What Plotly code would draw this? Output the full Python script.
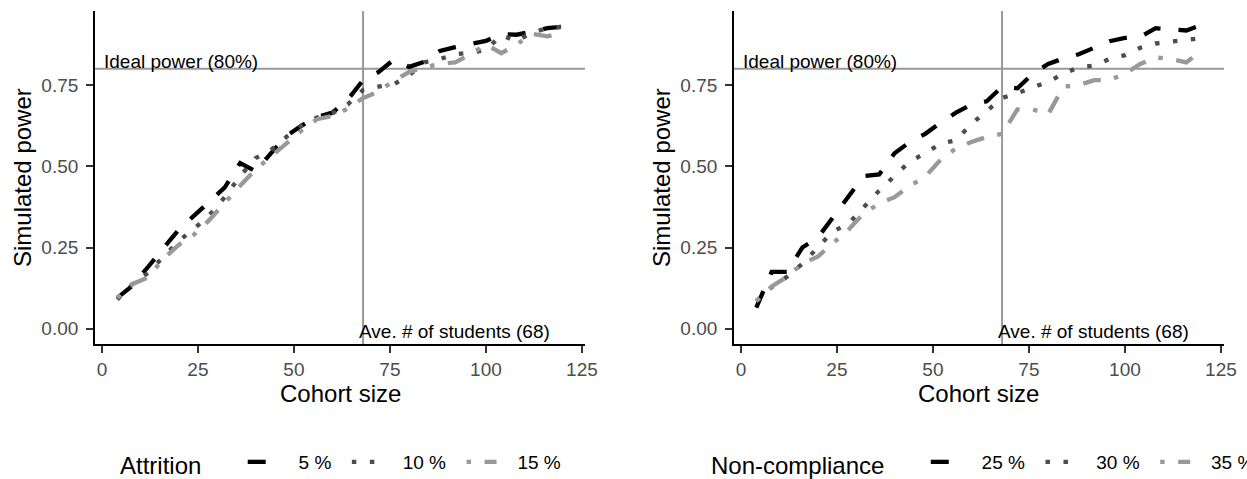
import plotly.graph_objects as go

# ---- data ----
cohort = [4, 8, 12, 16, 20, 24, 28, 32, 36, 40, 44, 48, 52, 56, 60,
          64, 68, 72, 76, 80, 84, 88, 92, 96, 100, 104, 108, 112, 116, 120]

attr_5 = [0.095, 0.133, 0.19, 0.245, 0.305, 0.348, 0.39, 0.435, 0.51, 0.485,
          0.54, 0.593, 0.625, 0.652, 0.665, 0.705, 0.765, 0.79, 0.828, 0.806,
          0.822, 0.855, 0.867, 0.876, 0.886, 0.907, 0.905, 0.915, 0.925, 0.93]
attr_10 = [0.09, 0.138, 0.172, 0.222, 0.27, 0.308, 0.35, 0.405, 0.47, 0.525,
           0.55, 0.59, 0.625, 0.65, 0.663, 0.69, 0.735, 0.745, 0.752, 0.78,
           0.82, 0.83, 0.845, 0.85, 0.858, 0.904, 0.885, 0.912, 0.925, 0.93]
attr_15 = [0.095, 0.138, 0.158, 0.215, 0.258, 0.29, 0.335, 0.39, 0.44, 0.49,
           0.53, 0.57, 0.61, 0.645, 0.655, 0.677, 0.71, 0.73, 0.763, 0.79,
           0.805, 0.815, 0.82, 0.845, 0.875, 0.848, 0.875, 0.908, 0.90, 0.91]

nc_25 = [0.065, 0.175, 0.175, 0.25, 0.28, 0.345, 0.41, 0.47, 0.475, 0.54,
         0.575, 0.60, 0.634, 0.665, 0.69, 0.70, 0.745, 0.74, 0.785, 0.815,
         0.832, 0.845, 0.865, 0.885, 0.895, 0.898, 0.925, 0.92, 0.918, 0.935]
nc_30 = [0.085, 0.128, 0.16, 0.20, 0.25, 0.30, 0.323, 0.375, 0.425, 0.47,
         0.515, 0.54, 0.57, 0.58, 0.63, 0.67, 0.71, 0.725, 0.742, 0.76,
         0.785, 0.805, 0.81, 0.83, 0.842, 0.865, 0.878, 0.882, 0.889, 0.895]
nc_35 = [0.085, 0.13, 0.16, 0.20, 0.222, 0.265, 0.305, 0.355, 0.385, 0.405,
         0.44, 0.468, 0.52, 0.555, 0.575, 0.59, 0.60, 0.675, 0.675, 0.66,
         0.745, 0.75, 0.765, 0.765, 0.785, 0.815, 0.835, 0.83, 0.82, 0.855]

attr_labels = ["5 %", "10 %", "15 %"]
nc_labels = ["25 %", "30 %", "35 %"]
x_ticks = [0, 25, 50, 75, 100, 125]
y_ticks = [0.0, 0.25, 0.5, 0.75]
y_tick_text = ["0.00", "0.25", "0.50", "0.75"]
ideal_power = 0.8
ave_students = 68

# ---- styling ----
W, H = 1247, 479
FONT = "Liberation Sans, Arial, sans-serif"
colors = ["#000000", "#4d4d4d", "#999999"]
dashes = ["18px,18px", "4.5px,13.5px", "4.5px,13.5px,18px,13.5px"]
LW = 4.3
NB = "\u00a0"

def px_x(p):
    return p / W

def px_y(p):
    return 1 - p / H

def leg_name(s, last=False):
    return NB * 3 + s + ("" if last else NB * 2)

fig = go.Figure()

for i, (vals, lab, c, d) in enumerate(zip([attr_5, attr_10, attr_15], attr_labels, colors, dashes)):
    fig.add_trace(go.Scatter(x=cohort, y=vals, mode="lines", name=leg_name(lab, i == 2),
                             line=dict(color=c, width=LW, dash=d),
                             xaxis="x", yaxis="y", legend="legend"))
for i, (vals, lab, c, d) in enumerate(zip([nc_25, nc_30, nc_35], nc_labels, colors, dashes)):
    fig.add_trace(go.Scatter(x=cohort, y=vals, mode="lines", name=leg_name(lab, i == 2),
                             line=dict(color=c, width=LW, dash=d),
                             xaxis="x2", yaxis="y2", legend="legend2"))

xr = [-1.8, 125.8]
yr = [-0.047, 0.978]
ydom = [px_y(344), px_y(11)]

axis_common = dict(showgrid=False, zeroline=False, showline=True, linecolor="black",
                   linewidth=1.8, ticks="outside", ticklen=7, tickwidth=1.8,
                   tickcolor="#333333", tickfont=dict(family=FONT, size=19, color="#4d4d4d"),
                   automargin=False)

legend_common = dict(orientation="h", xanchor="left", y=px_y(464), yanchor="middle",
                     font=dict(size=19, family=FONT), bgcolor="rgba(0,0,0,0)",
                     itemwidth=30)

fig.update_layout(
    width=W, height=H, margin=dict(l=0, r=0, t=0, b=0, autoexpand=False),
    plot_bgcolor="white", paper_bgcolor="white",
    font=dict(family=FONT, color="black"),
    xaxis=dict(domain=[px_x(95), px_x(585)], range=xr, tickvals=x_ticks, anchor="y",
               **axis_common),
    yaxis=dict(domain=ydom, range=yr, tickvals=y_ticks, ticktext=y_tick_text, anchor="x",
               ticklabelstandoff=4, **axis_common),
    xaxis2=dict(domain=[px_x(734), px_x(1224)], range=xr, tickvals=x_ticks, anchor="y2",
                **axis_common),
    yaxis2=dict(domain=ydom, range=yr, tickvals=y_ticks, ticktext=y_tick_text, anchor="x2",
                ticklabelstandoff=4, **axis_common),
    legend=dict(x=px_x(118),
                title=dict(text="Attrition" + NB * 5, font=dict(size=24, family=FONT),
                           side="left"),
                **legend_common),
    legend2=dict(x=px_x(709),
                 title=dict(text="Non-compliance" + NB * 5, font=dict(size=24, family=FONT),
                            side="left"),
                 **legend_common),
    showlegend=True,
)

ref_line = dict(color="#9a9a9a", width=2)
shapes = []
for xa, ya in [("x", "y"), ("x2", "y2")]:
    shapes.append(dict(type="line", xref=f"{xa} domain", x0=0, x1=1, yref=ya,
                       y0=ideal_power, y1=ideal_power, line=ref_line, layer="below"))
    shapes.append(dict(type="line", xref=xa, x0=ave_students, x1=ave_students,
                       yref=f"{ya} domain", y0=0, y1=1, line=ref_line, layer="below"))
fig.update_layout(shapes=shapes)

annos = []
for xa, ya, xmid, ytitle_x in [("x", "y", 340, 22), ("x2", "y2", 979, 661)]:
    annos.append(dict(text="Ideal power (80%)", xref=xa, yref=ya, x=0, y=0.823,
                      xanchor="left", yanchor="middle", showarrow=False,
                      font=dict(size=19, family=FONT, color="black")))
    annos.append(dict(text="Ave. # of students (68)", xref=xa, yref=ya, x=117.2, y=-0.009,
                      xanchor="right", yanchor="middle", showarrow=False,
                      font=dict(size=19, family=FONT, color="black")))
    annos.append(dict(text="Cohort size", xref="paper", yref="paper", x=px_x(xmid),
                      y=px_y(393), xanchor="center", yanchor="middle", showarrow=False,
                      font=dict(size=24, family=FONT, color="black")))
    annos.append(dict(text="Simulated power", xref="paper", yref="paper", x=px_x(ytitle_x),
                      y=px_y(178), xanchor="center", yanchor="middle", showarrow=False,
                      textangle=-90, font=dict(size=24, family=FONT, color="black")))
fig.update_layout(annotations=annos)

fig.write_html("out.html")
